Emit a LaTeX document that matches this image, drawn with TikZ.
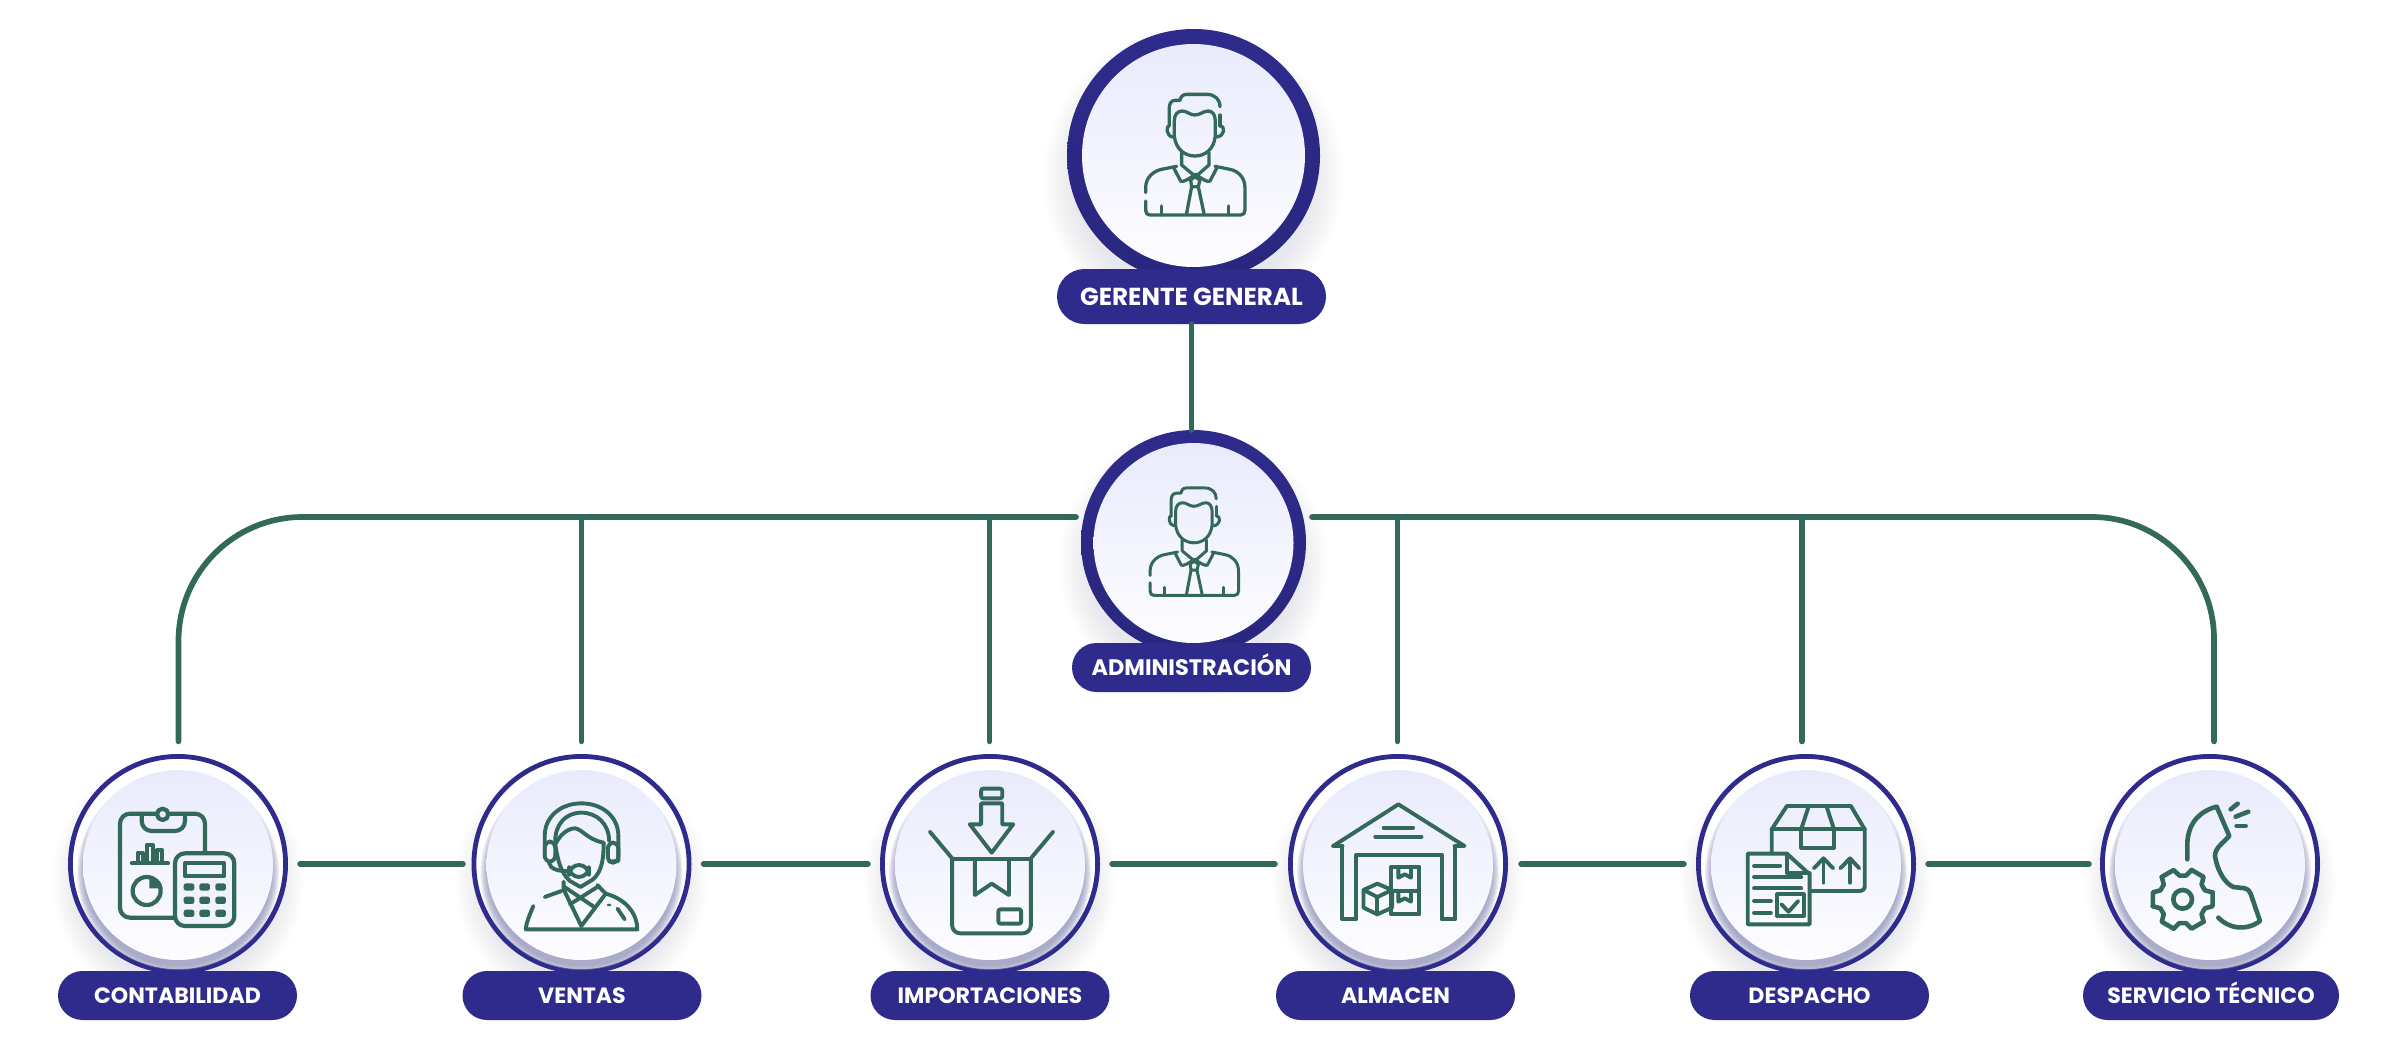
\documentclass[tikz,border=0pt]{standalone}
\usepackage{fontspec}
\setmainfont{Poppins}
\usetikzlibrary{shapes.misc}
\definecolor{navy}{HTML}{2E2B8C}
\definecolor{navydark}{HTML}{2A277F}
\definecolor{leaf}{HTML}{32695A}
\definecolor{discTop}{HTML}{E9EBFC}
\definecolor{discMid}{HTML}{F0F2FE}
\definecolor{discBot}{HTML}{FDFDFF}
\definecolor{bevel}{HTML}{8A8BB6}
\tikzset{
  conn/.style={draw=leaf,line width=2.85pt,line cap=round},
  bigring/.style={circle,inner sep=0pt,outer sep=0pt,top color=navy,bottom color=navydark},
  smallring/.style={circle,inner sep=0pt,outer sep=0pt,draw=navy,fill=white,line width=2.4pt,minimum size=107.6pt},
  disc/.style={circle,inner sep=0pt,outer sep=0pt,top color=discTop,middle color=discMid,bottom color=discBot},
  pill/.style={rounded rectangle,fill=navy,text=white,inner sep=0pt,outer sep=0pt,text depth=0pt,align=center},
  icon/.style={draw=leaf,line cap=round,line join=round,line width=#1},
  icon/.default=2pt,
  dot/.style={fill=leaf,draw=none},
}
\newcommand{\softshadow}[4]{% cx cy rmin rmax
  \foreach \k in {0,1,...,11}{
    \pgfmathsetmacro{\rr}{#3+(#4-#3)*\k/11}
    \fill[bevel,fill opacity=.016] (#1,#2) circle[radius=\rr];
  }}
\newcommand{\smallunit}[6]{% name cx pill-cx pill-width size text
  \softshadow{#2}{880}{100}{126}
  \node[smallring] (#1) at (#2,863) {};
  \begin{scope}
    \clip (#2,863) circle[radius=106];
    \foreach \k in {0,1,...,7}{
      \pgfmathsetmacro{\rr}{101-\k*1.1}
      \fill[bevel,fill opacity=.14] (#2,872) circle[radius=\rr];
    }
  \end{scope}
  \node[disc,minimum size=95pt] (#1disc) at (#2,864) {};
  \node[pill,minimum width=#4pt,minimum height=24.5pt,text height=7.7pt,font=\bfseries\fontsize{#5}{#5}\selectfont] (#1pill) at (#3,994.5) {#6};
}
\newcommand{\personicon}{%
  \draw (570,287) .. controls (570,265) and (555,250) .. (530,250) -- (470,250) .. controls (458,250) and (452,258) .. (450,268) -- (435,268) .. controls (424,268) and (418,278) .. (418,290) -- (418,345);
  \draw (418,343) .. controls (408,345) and (408,375) .. (428,378);
  \draw (433,375) -- (433,330) .. controls (433,310) and (443,300) .. (457,300) .. controls (470,300) and (480,312) .. (495,312) .. controls (510,312) and (520,300) .. (535,300) .. controls (548,300) and (556,312) .. (556,330) -- (556,375) .. controls (552,415) and (525,435) .. (495,435) .. controls (465,435) and (437,415) .. (433,375);
  \draw (570,312) -- (570,345);
  \draw (570,343) .. controls (586,345) and (586,375) .. (560,378);
  \draw (455,425) -- (455,462) -- (497,497) -- (537,462) -- (537,425);
  \draw (432,472) -- (452,510) .. controls (458,514) and (470,508) .. (497,490) .. controls (522,508) and (534,514) .. (540,510) -- (560,472);
  \draw (482,507) -- (495,497) -- (510,507) -- (505,527) -- (485,527) -- cycle;
  \draw (485,527) -- (470,607);
  \draw (505,527) -- (522,607);
  \draw (347,545) -- (347,530) .. controls (347,500) and (370,480) .. (395,475) -- (440,466);
  \draw (555,466) -- (600,475) .. controls (625,480) and (645,500) .. (645,530) -- (645,598) .. controls (645,607) and (640,612) .. (632,612) -- (360,612) .. controls (352,612) and (347,607) .. (347,598) -- (347,570);
  \draw (395,585) -- (395,612);
  \draw (596,585) -- (596,612);
}
\begin{document}
\begin{tikzpicture}[x=.5pt,y=-.5pt]
\useasboundingbox (0,-1) rectangle (2394,1055);
\fill[white] (0,-1) rectangle (2394,1055);

% top unit
\softshadow{1193.5}{176}{120}{150}
\node[bigring,minimum size=126.5pt] (ger) at (1193.5,154.5) {};
\node[disc,minimum size=111.5pt] (gerdisc) at (1193.5,154.5) {};
\node[pill,minimum width=134.5pt,minimum height=27.5pt,text height=8.7pt,font=\bfseries\fontsize{12.3}{13}\selectfont] (gerpill) at (1191.5,295.5) {GERENTE GENERAL};

% middle unit
\softshadow{1193.5}{562}{106}{134}
\node[bigring,minimum size=112.5pt] (adm) at (1193.5,541.5) {};
\node[disc,minimum size=100pt] (admdisc) at (1193.5,542) {};
\node[pill,minimum width=119.5pt,minimum height=24.5pt,text height=7.9pt,font=\bfseries\fontsize{11.2}{12}\selectfont] (admpill) at (1191.5,666.5) {ADMINISTRACIÓN};

% bottom units
\smallunit{cont}{178}{177.5}{119.5}{11.05}{CONTABILIDAD}
\smallunit{vent}{581.5}{582}{119.5}{11.05}{VENTAS}
\smallunit{impo}{990}{990}{119.5}{11.05}{IMPORTACIONES}
\smallunit{alma}{1398}{1395.5}{119.5}{11.05}{ALMACEN}
\smallunit{desp}{1806}{1809.5}{119.5}{11.05}{DESPACHO}
\smallunit{serv}{2210}{2211}{128}{11.05}{SERVICIO TÉCNICO}

% connectors
\coordinate (busL) at (1076,516);
\coordinate (busR) at (1312,516);
\coordinate (j1) at (178.5,516);
\coordinate (j2) at (581.5,516);
\coordinate (j3) at (989.5,516);
\coordinate (j4) at (1397.5,516);
\coordinate (j5) at (1802,516);
\coordinate (j6) at (2214,516);
\draw[conn] (gerpill.south) -- (gerpill.south |- adm.north);
\draw[conn,rounded corners=62pt,shorten >=7.5pt] (busL) -- (j1) -- (j1 |- cont.north);
\draw[conn,rounded corners=61pt,shorten >=7.5pt] (busR) -- (j6) -- (j6 |- serv.north);
\draw[conn,shorten >=7.5pt] (j2) -- (j2 |- vent.north);
\draw[conn,shorten >=7.5pt] (j3) -- (j3 |- impo.north);
\draw[conn,shorten >=7.5pt] (j4) -- (j4 |- alma.north);
\draw[conn,shorten >=7.5pt] (j5) -- (j5 |- desp.north);
\draw[conn,shorten <=7.25pt,shorten >=5.5pt] (cont.east) -- (vent.west);
\draw[conn,shorten <=7.25pt,shorten >=7.25pt] (vent.east) -- (impo.west);
\draw[conn,shorten <=7.25pt,shorten >=7.75pt] (impo.east) -- (alma.west);
\draw[conn,shorten <=7.75pt,shorten >=7.25pt] (alma.east) -- (desp.west);
\draw[conn,shorten <=7.25pt,shorten >=6.75pt] (desp.east) -- (serv.west);

% person icons
\begin{scope}[shift={(1195.3,214)},scale=.3333,shift={(-496,-612)},every path/.append style={icon=1.65pt}]
\personicon
\end{scope}
\begin{scope}[shift={(1194.3,594.3)},scale=.2967,shift={(-496,-612)},every path/.append style={icon=1.5pt}]
\personicon
\end{scope}

% contabilidad
\begin{scope}[shift={(40,740)},scale=.3333,every path/.append style={icon=2.1pt}]
\draw[rounded corners=5pt] (495,332) -- (495,218) -- (240,218) -- (240,530) -- (405,530);
\draw[rounded corners=5pt] (305,222) -- (305,270) -- (435,270) -- (435,222);
\draw[fill=discTop] (368,220) circle[radius=17];
\draw (276,367) -- (384,367);
\draw (293,365) -- (293,335) -- (308,335) -- (308,365);
\draw (320,365) -- (320,312) -- (338,312) -- (338,365);
\draw (350,365) -- (350,328) -- (366,328) -- (366,365);
\draw (320,450) circle[radius=42];
\fill[dot] (328,442) -- (328,404) .. controls (350,406) and (366,422) .. (368,442) -- cycle;
\draw[rounded corners=5pt,fill=discMid] (405,337) rectangle (583,555);
\draw (435,367) rectangle (553,405);
\foreach \x in {447,494,542}{\foreach \y in {438,478,517}{
  \fill[dot,rounded corners=1.2pt] (\x-16,\y-11) rectangle (\x+16,\y+11);}}
\end{scope}

% ventas
\begin{scope}[shift={(450,740)},xscale=.4209,yscale=.3333,every path/.append style={icon=1.95pt}]
\draw (225,345) -- (225,285) .. controls (225,225) and (265,187) .. (312,187) .. controls (360,187) and (400,225) .. (400,285) -- (400,360) -- (378,362);
\draw (250,300) .. controls (250,250) and (275,215) .. (312,215) .. controls (350,215) and (378,250) .. (378,300);
\draw[rounded corners=3pt] (225,302) rectangle (250,362);
\draw[rounded corners=3pt] (375,305) rectangle (400,365);
\draw (250,310) .. controls (262,280) and (280,262) .. (297,262) .. controls (315,265) and (325,295) .. (365,305);
\draw (365,305) .. controls (365,350) and (362,390) .. (340,415) -- (310,438) -- (285,420) .. controls (262,395) and (255,350) .. (250,310);
\draw[rounded corners=5pt,fill=discMid] (283,372) rectangle (330,408);
\draw (235,365) .. controls (238,385) and (260,392) .. (283,390);
\draw (270,422) -- (270,445) -- (312,555) -- (370,458) -- (350,432);
\draw (272,438) -- (345,500);
\draw (350,438) -- (285,490);
\draw (225,468) -- (265,450);
\draw (198,495) .. controls (190,520) and (182,540) .. (180,565) -- (445,565) .. controls (445,520) and (420,475) .. (370,458);
\fill[dot] (378,492) ellipse[x radius=5,y radius=4];
\draw (398,503) -- (415,535);
\end{scope}

% importaciones
\begin{scope}[shift={(450,740)},xscale=.4209,yscale=.3333,every path/.append style={icon=1.95pt}]
\draw[rounded corners=1pt] (1262,143) rectangle (1312,172);
\draw (1262,187) -- (1312,187) -- (1312,250) -- (1338,250) -- (1287,335) -- (1235,250) -- (1262,250) -- cycle;
\draw (1193,355) -- (1380,355);
\draw[rounded corners=4pt] (1193,355) -- (1193,577) -- (1380,577) -- (1380,355);
\draw (1140,272) -- (1193,352);
\draw (1433,272) -- (1380,352);
\draw (1247,360) -- (1247,462) -- (1287,428) -- (1328,462) -- (1328,360);
\draw[rounded corners=1pt] (1303,505) rectangle (1357,548);
\end{scope}

% almacen
\begin{scope}[shift={(1270,740)},xscale=.4209,yscale=.3333,every path/.append style={icon=1.95pt}]
\draw (150,315) -- (305,190) -- (462,315) -- (438,315);
\draw (150,315) -- (172,315);
\draw (172,315) -- (172,535) -- (205,535) -- (205,342) -- (408,342) -- (408,535) -- (440,535) -- (440,315);
\draw (270,260) -- (340,260);
\draw (250,287) -- (360,287);
\draw (287,378) rectangle (355,450);
\draw (287,450) rectangle (355,520);
\draw (305,380) -- (305,410) -- (320,400) -- (335,410) -- (335,380);
\draw (305,452) -- (305,482) -- (320,472) -- (335,482) -- (335,452);
\draw (255,428) -- (290,447) -- (290,500) -- (255,520) -- (222,500) -- (222,447) -- cycle;
\draw (222,447) -- (255,468) -- (290,447);
\draw (255,468) -- (255,520);
\end{scope}

% despacho
\begin{scope}[shift={(1270,740)},xscale=.4209,yscale=.3333,every path/.append style={icon=1.95pt}]
\draw (1192,335) -- (1192,265) -- (1228,195) -- (1380,195) -- (1413,265) -- (1413,435) .. controls (1413,445) and (1408,450) .. (1400,450) -- (1285,450);
\draw (1192,265) -- (1413,265);
\draw (1262,265) -- (1280,195);
\draw (1340,265) -- (1322,195);
\draw (1262,265) -- (1262,320) -- (1340,320) -- (1340,265);
\draw (1315,425) -- (1315,355);
\draw (1292,382) -- (1315,352) -- (1338,382);
\draw (1378,425) -- (1378,355);
\draw (1355,382) -- (1378,352) -- (1400,382);
\draw (1135,338) -- (1228,338) -- (1282,400) -- (1282,550) -- (1135,550) -- cycle;
\draw (1228,338) -- (1228,397) -- (1282,397);
\draw (1150,375) -- (1212,375);
\draw (1150,408) -- (1262,408);
\draw (1150,442) -- (1262,442);
\draw (1150,480) -- (1190,480);
\draw (1150,515) -- (1190,515);
\draw (1205,460) rectangle (1268,525);
\draw (1215,490) -- (1232,512) -- (1255,480);
\end{scope}

% servicio
\begin{scope}[shift={(2060,740)},scale=.3333,every path/.append style={icon=2.3pt}]
\draw (382,355) -- (382,305) .. controls (385,245) and (420,210) .. (470,197) -- (508,285) .. controls (490,305) and (465,320) .. (465,345) .. controls (470,380) and (490,425) .. (520,438) -- (555,442) .. controls (565,444) and (568,450) .. (572,458) -- (600,540) .. controls (560,570) and (510,565) .. (475,530);
\draw (512,205) -- (533,188);
\draw (527,227) -- (565,212);
\draw (530,255) -- (557,255);
\draw (368,475) circle[radius=28];
\begin{scope}[shift={(368,475)}]
\foreach \a in {0,60,...,300}{
  \draw (\a-13:92) -- (\a+13:92) -- (\a+22:72) -- (\a+38:72) -- (\a+47:92);
}
\end{scope}
\end{scope}
\end{tikzpicture}
\end{document}
